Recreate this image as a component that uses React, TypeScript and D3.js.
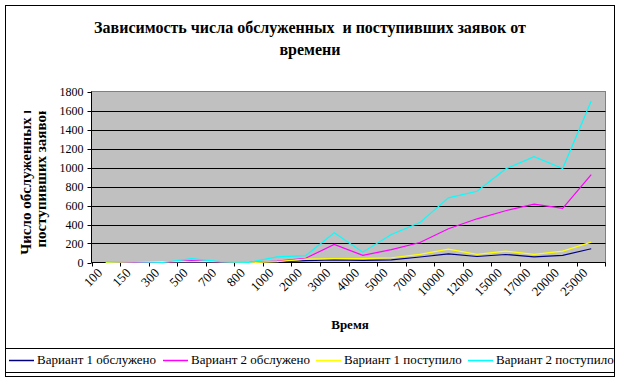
import React, { useEffect } from 'react';
import * as d3 from 'd3';

const categories = ['100', '150', '300', '500', '700', '800', '1000', '2000', '3000', '4000', '5000', '7000', '10000', '12000', '15000', '17000', '20000', '25000'];
const v1Served = [0, 0, 0, 0, 0, 0, 5, 20, 28, 22, 28, 58, 90, 63, 84, 60, 75, 145];
const v2Served = [0, 0, 0, 20, 5, 0, 15, 45, 190, 75, 135, 210, 355, 460, 545, 615, 570, 925];
const v1Arrived = [0, 10, 10, 10, 10, 0, 10, 35, 40, 40, 50, 85, 140, 85, 120, 85, 120, 215];
const v2Arrived = [8, 8, 0, 40, 10, 0, 60, 72, 312, 109, 295, 420, 680, 750, 985, 1115, 990, 1700];
const yTicks = [0, 200, 400, 600, 800, 1000, 1200, 1400, 1600, 1800];
const seriesNames = ['Вариант 1 обслужено', 'Вариант 2 обслужено', 'Вариант 1 поступило', 'Вариант 2 поступило'];
const seriesColors = ['#000080', '#FF00FF', '#FFFF00', '#00FFFF'];

const W = 621;
const H = 381;
const FONT = '"Liberation Serif", "Times New Roman", serif';

export default function App() {
  useEffect(() => {
    document.body.style.margin = '0';
  }, []);

  const left = 91.5, right = 605.5, top = 91.5, bottom = 262.5;
  const x = d3.scaleBand<string>().domain(categories).range([left, right]);
  const y = d3.scaleLinear().domain([0, 1800]).range([bottom, top]);
  const series = [v1Served, v2Served, v1Arrived, v2Arrived];
  const line = d3.line<number>()
    .x((_, i) => (x(categories[i]) as number) + x.bandwidth() / 2)
    .y((d) => y(d));

  const legendX = [9, 163, 316, 468];
  const legendY = 360;

  return (
    <svg width={W} height={H} style={{ display: 'block', fontFamily: FONT }}>
      <defs>
        <clipPath id="ytclip">
          <rect x={0} y={111} width={80} height={160} />
        </clipPath>
      </defs>
      <rect x={0} y={0} width={W} height={H} fill="#fff" />
      <rect x={5.5} y={5.5} width={609} height={371} fill="none" stroke="#000" />

      {/* title */}
      <text x={310} y={33} textAnchor="middle" fontWeight="bold" fontSize={16} style={{ whiteSpace: 'pre' }}>
        Зависимость числа обслуженных  и поступивших заявок от
      </text>
      <text x={310} y={55} textAnchor="middle" fontWeight="bold" fontSize={16}>времени</text>

      {/* plot area */}
      <rect x={left} y={top} width={right - left} height={bottom - top} fill="#C0C0C0" stroke="#808080" />
      {yTicks.filter((t) => t > 0 && t < 1800).map((t) => (
        <line key={t} x1={left} x2={right} y1={Math.round(y(t)) + 0.5} y2={Math.round(y(t)) + 0.5} stroke="#000" />
      ))}
      {/* axes */}
      <line x1={left} x2={left} y1={top} y2={bottom} stroke="#000" />
      <line x1={left} x2={right} y1={bottom} y2={bottom} stroke="#000" />
      {yTicks.map((t) => (
        <g key={t}>
          <line x1={left - 4} x2={left} y1={Math.round(y(t)) + 0.5} y2={Math.round(y(t)) + 0.5} stroke="#000" />
          <text x={left - 8} y={y(t) + 4} textAnchor="end" fontSize={12}>{t}</text>
        </g>
      ))}
      {categories.map((c) => (
        <line key={'xt' + c} x1={Math.round(x(c) as number) + 0.5} x2={Math.round(x(c) as number) + 0.5} y1={bottom} y2={bottom + 4} stroke="#000" />
      ))}
      <line x1={right} x2={right} y1={bottom} y2={bottom + 4} stroke="#000" />
      {categories.map((c) => {
        const cx = (x(c) as number) + x.bandwidth() / 2 - 6;
        const cy = bottom + 8;
        return (
          <text key={'xl' + c} x={cx} y={cy} transform={`rotate(-45 ${cx} ${cy})`} textAnchor="end" fontSize={13} dy="0.35em">
            {c}
          </text>
        );
      })}

      {/* series */}
      {series.map((s, i) => (
        <path key={i} d={line(s) as string} fill="none" stroke={seriesColors[i]} strokeWidth={1.2} />
      ))}

      {/* axis titles */}
      <text x={350} y={329} textAnchor="middle" fontWeight="bold" fontSize={13}>Время</text>
      <g clipPath="url(#ytclip)">
        <text transform="translate(31,180) rotate(-90)" textAnchor="middle" fontWeight="bold" fontSize={15}>Число обслуженных и</text>
        <text transform="translate(46,177) rotate(-90)" textAnchor="middle" fontWeight="bold" fontSize={15}>поступивших заявок</text>
      </g>

      {/* legend */}
      <rect x={5.5} y={348.5} width={609} height={24} fill="#fff" stroke="#000" />
      {seriesNames.map((n, i) => (
        <g key={n}>
          <line x1={legendX[i]} x2={legendX[i] + 25} y1={legendY + 0.5} y2={legendY + 0.5} stroke={seriesColors[i]} strokeWidth={1.5} />
          <text x={legendX[i] + 28} y={legendY + 4} fontSize={13}>{n}</text>
        </g>
      ))}
    </svg>
  );
}
